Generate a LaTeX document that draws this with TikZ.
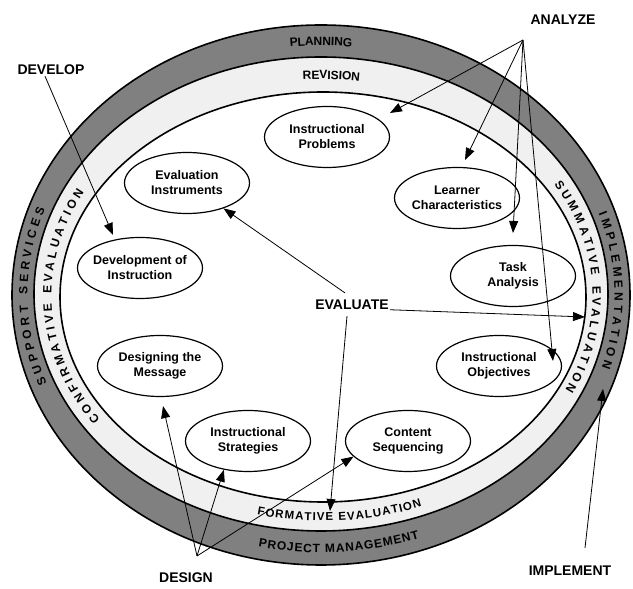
\documentclass[tikz,border=0pt]{standalone}
\usepackage{fontspec}
\setmainfont{Liberation Sans}
\usetikzlibrary{shapes.geometric, arrows.meta, decorations.text, calc}
\definecolor{outerband}{gray}{0.5}
\definecolor{innerband}{gray}{0.94}
\newcommand{\ringfont}{\bfseries\fontsize{12}{14}\selectfont}
\newcommand{\smallringfont}{\bfseries\fontsize{11.5}{14}\selectfont}

\begin{document}
\begin{tikzpicture}[
    x=1pt, y=1pt,
    phase/.style={
        ellipse, draw=black, line width=1.2pt,
        minimum width=125pt, minimum height=61pt,
        inner xsep=-6pt, inner ysep=0pt, align=center,
        font=\bfseries\fontsize{12.5}{15}\selectfont
    },
    stage/.style={
        inner sep=1pt,
        font=\bfseries\fontsize{14}{16}\selectfont
    },
    band/.style={draw=black, line width=1.6pt},
    ringtext/.style={
        decorate,
        decoration={text along path, raise=-4.5pt}
    },
    arrow/.style={
        -{Triangle[length=12pt, width=9pt]}, line width=0.8pt, draw=black
    }
]
\useasboundingbox (0,0) rectangle (633,589);

% Rings
\draw[band, fill=outerband] (321,294) ellipse [x radius=309pt, y radius=270pt];
\draw[band, fill=innerband] (321,295) ellipse [x radius=287pt, y radius=237pt];
\draw[band, fill=white] (323,292) ellipse [x radius=263pt, y radius=205pt];

% Ring labels
\path[ringtext, decoration={text align=center, text={|\ringfont|PLANNING}}]
    (321,294.5) ++(110:298pt and 253.5pt) arc[start angle=110, end angle=70, x radius=298pt, y radius=253.5pt];
\path[ringtext, decoration={text align=center, text={|\ringfont|REVISION}}]
    (322,293.5) ++(106:275pt and 221pt) arc[start angle=106, end angle=70, x radius=275pt, y radius=221pt];
\path[ringtext, decoration={text align={fit to path}, text={|\ringfont|IMPLEMENTATION}}]
    (321,294.5) ++(19:298pt and 253.5pt) arc[start angle=19, end angle=-17, x radius=298pt, y radius=253.5pt];
\path[ringtext, decoration={text align={fit to path}, text={|\ringfont|SUMMATIVE EVALUATION}}]
    (322,293.5) ++(31:275pt and 221pt) arc[start angle=31, end angle=-26, x radius=275pt, y radius=221pt];
\path[ringtext, decoration={text align={fit to path}, text={|\ringfont|PROJECT MANAGEMENT}}]
    (321,294.5) ++(258:298pt and 253.5pt) arc[start angle=258, end angle=289, x radius=298pt, y radius=253.5pt];
\path[ringtext, decoration={text align={fit to path}, text={|\smallringfont|FORMATIVE EVALUATION}}]
    (322,293.5) ++(256.5:275pt and 221pt) arc[start angle=256.5, end angle=291, x radius=275pt, y radius=221pt];
\path[ringtext, decoration={text align={fit to path}, text={|\ringfont|SUPPORT SERVICES}}]
    (321,294.5) ++(201:298pt and 253.5pt) arc[start angle=201, end angle=160, x radius=298pt, y radius=253.5pt];
\path[ringtext, decoration={text align={fit to path}, text={|\ringfont|CONFIRMATIVE EVALUATION}}]
    (322,293.5) ++(215:275pt and 221pt) arc[start angle=215, end angle=151.5, x radius=275pt, y radius=221pt];

% Phases
\node[phase] (probs) at (327,452) {Instructional\\Problems};
\node[phase] (instruments) at (187,406) {Evaluation\\Instruments};
\node[phase] (learner) at (457,391) {Learner\\Characteristics};
\node[phase] (devinstr) at (140,321) {Development of\\Instruction};
\node[phase] (task) at (513,313) {Task\\Analysis};
\node[phase] (message) at (160,223) {Designing the\\Message};
\node[phase] (objectives) at (499,223) {Instructional\\Objectives};
\node[phase] (strategies) at (248,148) {Instructional\\Strategies};
\node[phase] (content) at (408,148) {Content\\Sequencing};

% Stages
\node[stage] (analyze) at (563,569) {ANALYZE};
\node[stage] (develop) at (51,519) {DEVELOP};
\node[stage] (evaluate) at (352,284) {EVALUATE};
\node[stage] (design) at (186,11) {DESIGN};
\node[stage] (implement) at (570,18) {IMPLEMENT};

\coordinate (analyzehub) at (523,549);
\coordinate (designhub) at (197,33);
\coordinate (summtip) at (585,272);
\coordinate (formtip) at (330,78);
\coordinate (impltip) at (603,200);

% Analyze
\draw[arrow] (analyzehub) -- ([shift={(63,24)}]probs.center);
\draw[arrow] (analyzehub) -- ([shift={(8,38)}]learner.center);
\draw[arrow] (analyzehub) -- ([shift={(0,43)}]task.center);
\draw[arrow] (analyzehub) -- ([shift={(54,5)}]objectives.center);

% Develop
\draw[arrow] ([xshift=-6pt]develop.south) -- ([shift={(-27,33)}]devinstr.center);

% Evaluate
\draw[arrow] ([shift={(-7pt,6pt)}]evaluate.north) -- (instruments);
\draw[arrow] (evaluate.base east) -- (summtip);
\draw[arrow] ([shift={(-5pt,-5pt)}]evaluate.south) -- (formtip);

% Design
\draw[arrow] (designhub) -- ([shift={(3,-9)}]message.south);
\draw[arrow] (designhub) -- (strategies.230);
\draw[arrow] (designhub) -- (content.196);

% Implement
\draw[arrow] ([shift={(15pt,17pt)}]implement.north) -- (impltip);

\end{tikzpicture}
\end{document}
